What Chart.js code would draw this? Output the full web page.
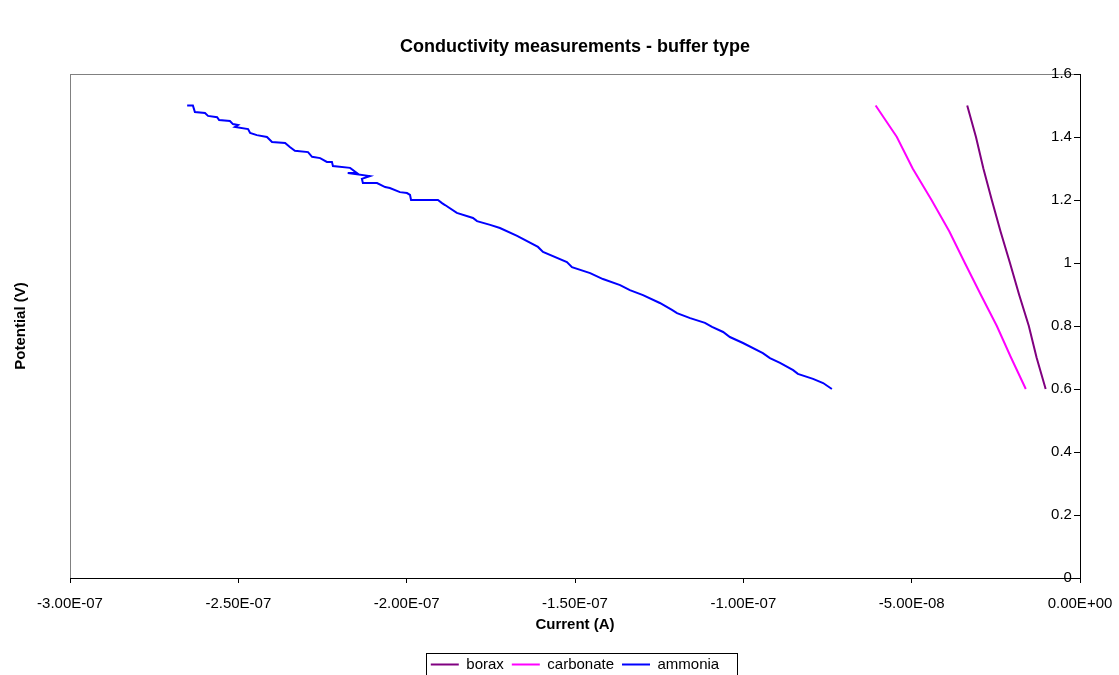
<!DOCTYPE html>
<html>
<head>
<meta charset="utf-8">
<title>Conductivity measurements - buffer type</title>
<script src="https://cdn.jsdelivr.net/npm/chart.js@4/dist/chart.umd.min.js"></script>
<style>
  html, body { margin: 0; padding: 0; background: #fff; }
  #wrap { width: 1119px; height: 675px; }
</style>
</head>
<body>
<div id="wrap"><canvas id="condChart" width="1119" height="675"></canvas></div>
<script>
// current (A) vs potential (V) for each buffer
const boraxCurrent = [-3.35e-8, -3.09e-8, -2.87e-8, -2.62e-8, -2.36e-8, -2.08e-8, -1.81e-8, -1.52e-8, -1.29e-8, -1.02e-8];
const boraxPotential = [1.5, 1.4, 1.3, 1.2, 1.1, 1.0, 0.9, 0.8, 0.7, 0.6];

const carbonateCurrent = [-6.07e-8, -5.44e-8, -4.97e-8, -4.41e-8, -3.88e-8, -3.42e-8, -2.95e-8, -2.47e-8, -2.05e-8, -1.61e-8];
const carbonatePotential = [1.5, 1.4, 1.3, 1.2, 1.1, 1.0, 0.9, 0.8, 0.7, 0.6];

const ammoniaCurrent = [
  -26.52e-8, -26.35e-8, -26.29e-8, -25.99e-8, -25.90e-8, -25.63e-8, -25.57e-8, -25.25e-8, -25.16e-8, -25.01e-8,
  -25.10e-8, -24.71e-8, -24.65e-8, -24.45e-8, -24.15e-8, -24.00e-8, -23.61e-8, -23.47e-8, -23.32e-8, -22.93e-8,
  -22.81e-8, -22.57e-8, -22.37e-8, -22.22e-8, -22.19e-8, -21.68e-8, -21.48e-8, -21.75e-8, -21.09e-8, -21.33e-8,
  -21.30e-8, -20.88e-8, -20.64e-8, -20.50e-8, -20.20e-8, -19.99e-8, -19.90e-8, -19.87e-8, -19.07e-8, -18.95e-8,
  -18.86e-8, -18.51e-8, -18.03e-8, -17.91e-8, -17.52e-8, -17.23e-8, -16.72e-8, -16.10e-8, -15.95e-8, -15.24e-8,
  -15.09e-8, -14.55e-8, -14.17e-8, -13.66e-8, -13.37e-8, -12.98e-8, -12.48e-8, -12.12e-8, -11.97e-8, -11.58e-8,
  -11.14e-8, -10.93e-8, -10.60e-8, -10.40e-8, -10.01e-8, -9.42e-8, -9.21e-8, -8.91e-8, -8.52e-8, -8.38e-8,
  -7.93e-8, -7.63e-8, -7.37e-8
];
const ammoniaPotential = [
  1.500, 1.500, 1.479, 1.476, 1.467, 1.463, 1.454, 1.451, 1.441, 1.438,
  1.432, 1.425, 1.413, 1.406, 1.400, 1.384, 1.381, 1.368, 1.356, 1.352,
  1.337, 1.333, 1.321, 1.321, 1.308, 1.302, 1.286, 1.286, 1.276, 1.267,
  1.254, 1.254, 1.241, 1.238, 1.225, 1.222, 1.216, 1.200, 1.200, 1.190,
  1.184, 1.159, 1.143, 1.133, 1.121, 1.111, 1.086, 1.051, 1.035, 1.003,
  0.987, 0.968, 0.949, 0.930, 0.914, 0.898, 0.873, 0.851, 0.841, 0.825,
  0.810, 0.797, 0.781, 0.765, 0.746, 0.714, 0.698, 0.683, 0.660, 0.648,
  0.632, 0.619, 0.600
];

const xMin = -3e-7, xMax = 0, xStep = 5e-8;
const yMin = 0, yMax = 1.6, yStep = 0.2;
// value labels of the potential axis sit a little left of the axis line at x = 0
const yLabelX = -2.4e-9;

const FONT = '"Liberation Sans", Arial, sans-serif';
Chart.defaults.font.family = FONT;
Chart.defaults.color = '#000';

function toPoints(xs, ys) {
  return xs.map((x, i) => ({ x: x, y: ys[i] }));
}

// Excel style scientific label, e.g. -2.50E-07
function sciLabel(v) {
  if (Math.abs(v) < 1e-15) v = 0;
  const parts = v.toExponential(2).split('e');
  const exp = parseInt(parts[1], 10);
  return parts[0] + 'E' + (exp < 0 ? '-' : '+') + String(Math.abs(exp)).padStart(2, '0');
}

// grey plot frame + box around the legend entries
const frames = {
  id: 'frames',
  beforeDraw(chart) {
    const a = chart.chartArea, ctx = chart.ctx;
    ctx.save();
    ctx.strokeStyle = '#808080';
    ctx.lineWidth = 1;
    ctx.strokeRect(Math.round(a.left) + 0.5, Math.round(a.top) + 0.5, Math.round(a.right - a.left), Math.round(a.bottom - a.top));
    ctx.restore();
  },
  afterDraw(chart) {
    const lg = chart.legend;
    if (!lg || !lg.legendHitBoxes || !lg.legendHitBoxes.length) return;
    const boxes = lg.legendHitBoxes;
    const left = Math.min(...boxes.map(b => b.left)) - 5;
    const right = Math.max(...boxes.map(b => b.left + b.width)) + 18;
    const top = Math.min(...boxes.map(b => b.top)) - 4;
    const bottom = Math.max(...boxes.map(b => b.top + b.height)) + 6;
    const ctx = chart.ctx;
    ctx.save();
    ctx.strokeStyle = '#000';
    ctx.lineWidth = 1;
    ctx.strokeRect(Math.round(left) + 0.5, Math.round(top) + 0.5, Math.round(right - left), Math.round(bottom - top));
    ctx.restore();
  }
};

new Chart(document.getElementById('condChart'), {
  type: 'line',
  data: {
    datasets: [
      { label: 'borax', data: toPoints(boraxCurrent, boraxPotential), borderColor: '#800080', backgroundColor: '#800080', borderWidth: 2 },
      { label: 'carbonate', data: toPoints(carbonateCurrent, carbonatePotential), borderColor: '#FF00FF', backgroundColor: '#FF00FF', borderWidth: 2 },
      { label: 'ammonia', data: toPoints(ammoniaCurrent, ammoniaPotential), borderColor: '#0000FF', backgroundColor: '#0000FF', borderWidth: 2 }
    ]
  },
  options: {
    responsive: false,
    animation: false,
    events: [],
    layout: { padding: { left: 0, right: 39, top: 0, bottom: 0 } },
    elements: {
      line: { tension: 0, fill: false },
      point: { radius: 0, hoverRadius: 0 }
    },
    plugins: {
      title: {
        display: true,
        text: 'Conductivity measurements - buffer type',
        fullSize: false,
        font: { size: 18, weight: 'bold', lineHeight: 1.2 },
        padding: { top: 36, bottom: 16.4 }
      },
      legend: {
        position: 'bottom',
        fullSize: false,
        maxHeight: 26,
        labels: {
          usePointStyle: true,
          pointStyle: 'line',
          pointStyleWidth: 28,
          boxHeight: 15,
          padding: 8,
          font: { size: 15 },
          color: '#000'
        }
      },
      tooltip: { enabled: false }
    },
    scales: {
      x: {
        type: 'linear',
        position: 'bottom',
        min: xMin,
        max: xMax,
        border: { color: '#000', width: 1 },
        grid: { drawOnChartArea: false, drawTicks: true, tickLength: 5, color: '#000' },
        ticks: {
          stepSize: xStep,
          autoSkip: false,
          maxRotation: 0,
          padding: 12,
          font: { size: 15 },
          callback: v => sciLabel(v)
        },
        title: {
          display: true,
          text: 'Current (A)',
          font: { size: 15, weight: 'bold', lineHeight: 1.2 },
          padding: { top: 0, bottom: 15 }
        },
        afterFit(scale) {
          scale.height = 71;
          scale.paddingLeft = 0;
          scale.paddingRight = 0;
        }
      },
      y: {
        type: 'linear',
        position: { x: 0 },
        min: yMin,
        max: yMax,
        border: { color: '#000', width: 1 },
        grid: { drawOnChartArea: false, drawTicks: true, tickLength: 6, color: '#000' },
        ticks: { stepSize: yStep, display: false }
      },
      yLabels: {
        type: 'linear',
        axis: 'y',
        position: { x: yLabelX },
        min: yMin,
        max: yMax,
        border: { display: false },
        grid: { display: false, drawTicks: false },
        ticks: {
          stepSize: yStep,
          font: { size: 15 },
          callback: v => String(+v.toFixed(1))
        }
      },
      yTitle: {
        type: 'linear',
        axis: 'y',
        position: 'left',
        min: yMin,
        max: yMax,
        border: { display: false },
        grid: { display: false, drawTicks: false },
        ticks: { display: false },
        title: {
          display: true,
          text: 'Potential (V)',
          font: { size: 15, weight: 'bold', lineHeight: 1.2 },
          padding: { top: 11.5, bottom: 0 }
        },
        afterFit(scale) { scale.width = 70; }
      }
    }
  },
  plugins: [frames]
});
</script>
</body>
</html>
